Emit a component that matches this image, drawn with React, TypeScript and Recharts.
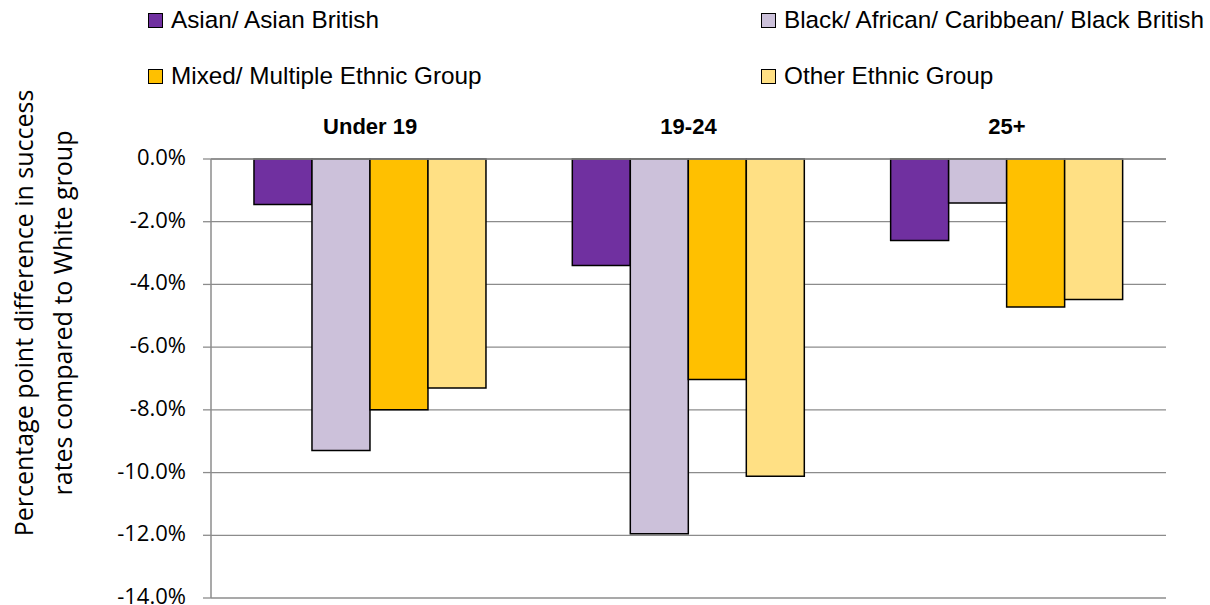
import React from "react";
import { BarChart, Bar, XAxis, YAxis, CartesianGrid } from "recharts";

const categories = ["Under 19", "19-24", "25+"];
const seriesNames = [
  "Asian/ Asian British",
  "Black/ African/ Caribbean/ Black British",
  "Mixed/ Multiple Ethnic Group",
  "Other Ethnic Group",
];
const seriesColors = ["#7030A0", "#CCC1DA", "#FFC000", "#FFE084"];
const asian = [-1.45, -3.4, -2.6];
const black = [-9.3, -11.95, -1.4];
const mixed = [-8.0, -7.03, -4.72];
const other = [-7.3, -10.12, -4.48];
const yTicks = [0, -2, -4, -6, -8, -10, -12, -14];
const yTitle = ["Percentage point difference in success", "rates compared to White group"];

const seriesValues = [asian, black, mixed, other];
const keys = ["s0", "s1", "s2", "s3"];
const data = categories.map((c, i) => {
  const row: any = { name: c };
  keys.forEach((k, j) => (row[k] = seriesValues[j][i]));
  return row;
});

const legendPos = [
  { left: 148, top: 7 },
  { left: 761, top: 7 },
  { left: 148, top: 63 },
  { left: 761, top: 63 },
];

const YTitle = (props: any) => {
  const cy = 313;
  return (
    <g>
      <text
        transform={`translate(33, ${cy}) rotate(-90)`}
        textAnchor="middle"
        fontFamily="Open Sans"
        fontSize={25}
        fill="#000"
      >
        {yTitle[0]}
      </text>
      <text
        transform={`translate(72, ${cy}) rotate(-90)`}
        textAnchor="middle"
        fontFamily="Open Sans"
        fontSize={25}
        fill="#000"
      >
        {yTitle[1]}
      </text>
    </g>
  );
};

const YTick = (props: any) => {
  const { x, y, payload } = props;
  return (
    <text
      x={x}
      y={y}
      dy={6}
      textAnchor="end"
      fontFamily="Open Sans"
      fontSize={22}
      fill="#000"
    >
      {`${Number(payload.value).toFixed(1)}%`}
    </text>
  );
};

export default function App() {
  return (
    <div style={{ position: "absolute", left: 0, top: 0, width: 1210, height: 605, background: "#fff" }}>
      {seriesNames.map((n, i) => (
        <div
          key={n}
          style={{
            position: "absolute",
            left: legendPos[i].left,
            top: legendPos[i].top,
            display: "flex",
            alignItems: "center",
            fontFamily: "'Liberation Sans', sans-serif",
            fontSize: 24.3,
            whiteSpace: "nowrap",
            lineHeight: "26px",
          }}
        >
          <span
            style={{
              display: "inline-block",
              width: 13,
              height: 13,
              background: seriesColors[i],
              border: "1.5px solid #000",
              marginRight: 8,
            }}
          />
          {n}
        </div>
      ))}
      <BarChart
        width={1210}
        height={605}
        data={data}
        margin={{ top: 119, right: 44, bottom: 7, left: 0 }}
        barCategoryGap="13.5%"
        barGap={0}
      >
        <CartesianGrid vertical={false} stroke="#8c8c8c" strokeWidth={1.3} />
        <XAxis
          dataKey="name"
          orientation="top"
          height={40}
          axisLine={{ stroke: "#8c8c8c", strokeWidth: 1.3 }}
          tickLine={false}
          tickSize={0}
          tickMargin={25}
          tick={{ fill: "#000", fontFamily: "'Liberation Sans', sans-serif", fontWeight: "bold", fontSize: 22 }}
        />
        <YAxis
          width={211}
          domain={[-14, 0]}
          ticks={yTicks}
          interval={0}
          axisLine={{ stroke: "#8c8c8c", strokeWidth: 1.5 }}
          tickLine={{ stroke: "#8c8c8c", strokeWidth: 1.3 }}
          tickSize={8}
          tickMargin={17}
          tick={<YTick />}
          label={<YTitle />}
        />
        {keys.map((k, i) => (
          <Bar
            key={k}
            dataKey={k}
            name={seriesNames[i]}
            fill={seriesColors[i]}
            stroke="#000"
            strokeWidth={1.5}
            isAnimationActive={false}
          />
        ))}
      </BarChart>
    </div>
  );
}
